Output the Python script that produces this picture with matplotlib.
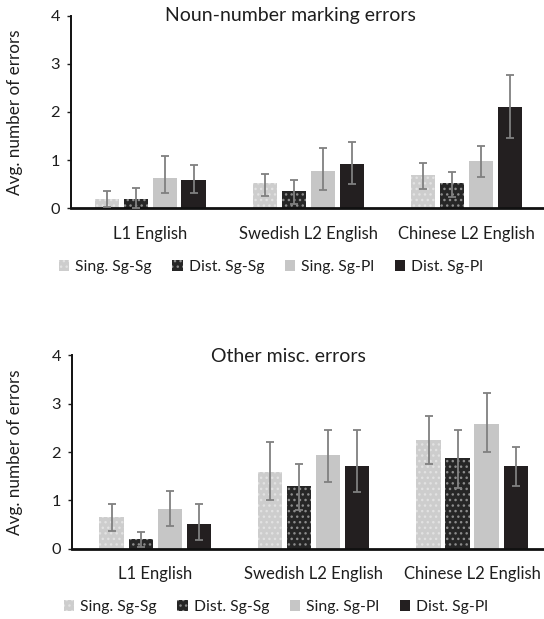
import matplotlib
matplotlib.use("Agg")
import matplotlib.pyplot as plt
import numpy as np
from matplotlib.patches import Patch

plt.rcParams['font.family'] = ['Lato', 'DejaVu Sans']
plt.rcParams['hatch.linewidth'] = 1.0

groups = ["L1 English", "Swedish L2 English", "Chinese L2 English"]
series = ["Sing. Sg-Sg", "Dist. Sg-Sg", "Sing. Sg-Pl", "Dist. Sg-Pl"]

# Noun-number marking errors: means, upper and lower whisker ends
nn_mean = [[0.19, 0.52, 0.69], [0.19, 0.35, 0.52], [0.63, 0.77, 0.98], [0.58, 0.92, 2.11]]
nn_hi   = [[0.35, 0.72, 0.93], [0.43, 0.59, 0.76], [1.09, 1.26, 1.30], [0.90, 1.38, 2.77]]
nn_lo   = [[0.03, 0.25, 0.40], [0.00, 0.08, 0.24], [0.31, 0.39, 0.64], [0.31, 0.51, 1.46]]

# Other misc. errors
om_mean = [[0.66, 1.58, 2.25], [0.20, 1.30, 1.87], [0.82, 1.93, 2.57], [0.51, 1.71, 1.71]]
om_hi   = [[0.93, 2.20, 2.75], [0.35, 1.75, 2.45], [1.19, 2.45, 3.21], [0.93, 2.45, 2.11]]
om_lo   = [[0.36, 1.00, 1.75], [0.04, 0.80, 1.25], [0.46, 1.37, 1.99], [0.19, 1.17, 1.29]]

faces = ["#cdcdcd", "#262626", "#c6c6c6", "#231f20"]
hatch_cols = ["#e2e2e2", "#8c8c8c", None, None]
hatches = ["...", "...", None, None]
err_col = "#808080"
txt = "#1e1e1e"

W, H = 544, 619
fig = plt.figure(figsize=(W / 100, H / 100), dpi=100)

def px_axes(left, right, top, bottom):
    return fig.add_axes([left / W, 1 - bottom / H, (right - left) / W, (bottom - top) / H])

def draw(ax, mean, hi, lo, xlim):
    x = np.arange(len(groups))
    step = 0.183
    width = 0.152
    for i in range(len(series)):
        m = np.array(mean[i]); h = np.array(hi[i]); l = np.array(lo[i])
        pos = x + (i - 1.5) * step
        if hatches[i]:
            ax.bar(pos, m, width, color=faces[i], edgecolor=hatch_cols[i],
                   hatch=hatches[i], linewidth=0, zorder=2)
        else:
            ax.bar(pos, m, width, color=faces[i], linewidth=0, zorder=2)
        ax.errorbar(pos, m, yerr=[m - l, h - m], fmt='none', ecolor=err_col,
                    elinewidth=1.3, capsize=2.6, capthick=1.3, zorder=3)
    ax.set_xlim(*xlim)
    ax.set_ylim(0, 4)
    ax.set_yticks([0, 1, 2, 3, 4])
    ax.set_xticks(x)
    ax.set_xticklabels(groups, fontsize=12, color=txt)
    ax.tick_params(axis='x', length=0, pad=12.5)
    ax.tick_params(axis='y', length=3, width=1, labelsize=11.8, colors=txt, pad=5)
    for s in ['top', 'right']:
        ax.spines[s].set_visible(False)
    ax.spines['left'].set_linewidth(1.4)
    ax.spines['left'].set_color("#111111")
    ax.spines['bottom'].set_linewidth(2.0)
    ax.spines['bottom'].set_color("#111111")

ax1 = px_axes(71, 544, 15.5, 208.3)
draw(ax1, nn_mean, nn_hi, nn_lo, (-0.5, 2.49))
ax2 = px_axes(72, 544, 355.3, 548.7)
draw(ax2, om_mean, om_hi, om_lo, (-0.524, 2.454))

for cy in [112, 452]:
    fig.text(15 / W, 1 - cy / H, "Avg. number of errors", rotation=90, ha='center',
             va='center', fontsize=12.3, color=txt)

fig.text(290 / W, 1 - 15 / H, "Noun-number marking errors", ha='center', va='center',
         fontsize=14, color=txt)
fig.text(288 / W, 1 - 356 / H, "Other misc. errors", ha='center', va='center',
         fontsize=14, color=txt)

handles = []
for i in range(len(series)):
    if hatches[i]:
        handles.append(Patch(facecolor=faces[i], edgecolor=hatch_cols[i], hatch=hatches[i],
                             linewidth=0, label=series[i]))
    else:
        handles.append(Patch(facecolor=faces[i], linewidth=0, label=series[i]))

for cy, cx in [(267, 271), (607, 276)]:
    fig.legend(handles=handles, loc='center', bbox_to_anchor=(cx / W, 1 - cy / H),
               ncol=4, frameon=False, fontsize=11.3, handlelength=0.65, handleheight=0.65,
               handletextpad=0.4, columnspacing=1.3, labelcolor=txt)

fig.savefig("out.png", dpi=100)
